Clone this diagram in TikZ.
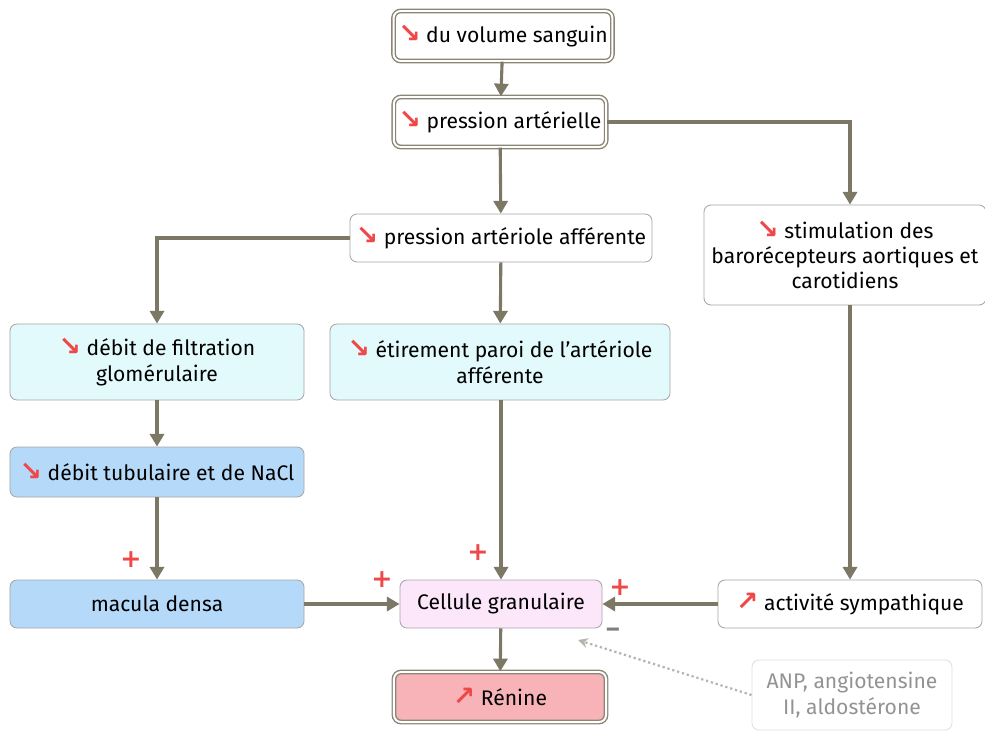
\documentclass[tikz,border=0pt]{standalone}
\usepackage{fontspec}
\setmainfont{Fira Sans}
\newfontfamily\symfont{DejaVu Sans}
\usetikzlibrary{arrows.meta,calc,positioning}
\definecolor{linec}{HTML}{7D7766}
\definecolor{arrowred}{HTML}{F04848}
\definecolor{cyanbox}{HTML}{E2FAFB}
\definecolor{bluebox}{HTML}{B5D9F8}
\definecolor{pinkbox}{HTML}{FBE6FA}
\definecolor{reninbox}{HTML}{F7B3B8}
\newcommand{\dn}{{\symfont\bfseries\fontsize{19}{16}\selectfont\color{arrowred}↘}}
\newcommand{\up}{{\symfont\bfseries\fontsize{19}{16}\selectfont\color{arrowred}↗}}
\tikzset{
  box/.style={draw=gray!70, rounded corners=5pt, fill=white, line width=0.6pt,
    align=center, font=\fontsize{15}{18}\selectfont},
  dblbox/.style={box, draw=linec!90, line width=1pt, double=white, double distance=1.4pt},
  conn/.style={draw=linec, line width=2.2pt, -{Triangle[length=9pt,width=10pt]}},
  inhib/.style={draw=linec!55, line width=1.6pt, dotted, -{Stealth[length=7pt,width=7pt]}},
  plus/.style={text=arrowred, font=\symfont\bfseries\fontsize{18}{18}\selectfont},
}
\begin{document}
\begin{tikzpicture}[x=0.025cm,y=-0.025cm]
\useasboundingbox (0,0) rectangle (985,731);
% top of the chain
\node[dblbox, minimum width=5.2cm, minimum height=1.25cm] (vol) at (503,36) {\dn\ du volume sanguin};
\node[dblbox, minimum width=5.2cm, minimum height=1.25cm] (pa) at (500,122) {\dn\ pression artérielle};
\node[box, minimum width=7.55cm, minimum height=1.2cm] (paa) at (501,238) {\dn\ pression artériole afférente};
\node[box, minimum width=7.05cm, minimum height=2.5cm] (baro) at (845,255)
  {\dn\ stimulation des\\ barorécepteurs aortiques et\\ carotidiens};
% middle row
\node[box, fill=cyanbox, minimum width=7.35cm, minimum height=1.9cm] (dfg) at (157,362)
  {\dn\ débit de filtration\\ glomérulaire};
\node[box, fill=cyanbox, minimum width=8.5cm, minimum height=1.9cm] (etir) at (500,362)
  {\dn\ étirement paroi de l'artériole\\ afférente};
\node[box, fill=bluebox, minimum width=7.35cm, minimum height=1.25cm] (tub) at (157,472) {\dn\ débit tubulaire et de NaCl};
% bottom row
\node[box, fill=bluebox, minimum width=7.35cm, minimum height=1.2cm] (mac) at (157,604) {macula densa};
\node[box, fill=pinkbox, minimum width=5.05cm, minimum height=1.2cm] (cell) at (501,604) {Cellule granulaire};
\node[box, minimum width=6.6cm, minimum height=1.2cm] (act) at (850,604) {\up\ activité sympathique};
\node[dblbox, fill=reninbox, minimum width=5.3cm, minimum height=1.25cm] (ren) at (500,697) {\up\ Rénine};
\node[box, draw=gray!25, text=gray!85, minimum width=5cm, minimum height=1.75cm] (anp) at (852,695)
  {ANP, angiotensine\\ II, aldostérone};
% connectors
\draw[conn] (vol) -- (pa);
\draw[conn] (pa) -- (paa);
\draw[conn] (pa.east) -| (baro.north -| act.north);
\draw[conn] (paa.west) -| (dfg.north);
\draw[conn] (paa) -- (etir);
\draw[conn] (dfg) -- (tub);
\draw[conn] (tub) -- (mac);
\draw[conn] (etir.south -| cell.north) -- (cell.north);
\draw[conn] (mac) -- (cell);
\draw[conn] (baro.south -| act.north) -- (act.north);
\draw[conn] (act) -- (cell);
\draw[conn] (cell) -- (ren);
\coordinate (inh) at (578,640);
\draw[inhib] (anp.west) -- (inh);
% signs
\node[plus] (p1) at (131,560) {+};
\node[plus] (p2) at (478,553) {+};
\node[plus] (p3) at (382,580) {+};
\node[plus] (p4) at (620,588) {+};
\node[text=gray, font=\bfseries\fontsize{18}{18}\selectfont] (m1) at (613,633) {–};
\end{tikzpicture}
\end{document}
